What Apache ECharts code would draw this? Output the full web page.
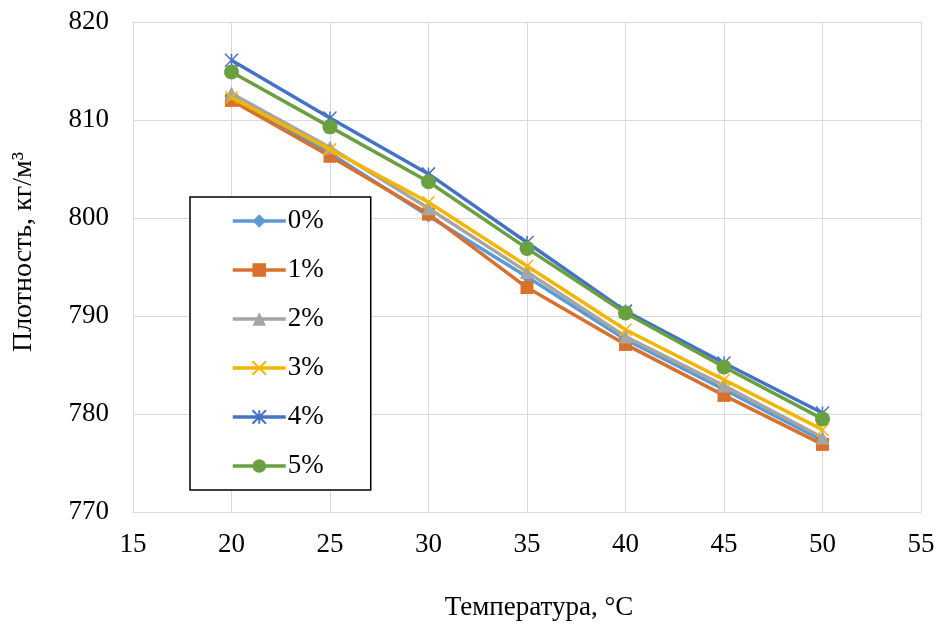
<!DOCTYPE html>
<html><head><meta charset="utf-8">
<script src="https://cdn.jsdelivr.net/npm/echarts@6/dist/echarts.min.js"></script>
<style>html,body{margin:0;padding:0;background:#fff}#c{width:939px;height:627px}</style>
</head><body><div id="c"></div>
<script>
const temps = [20, 25, 30, 35, 40, 45, 50];
const seriesNames = ['0%', '1%', '2%', '3%', '4%', '5%'];
const s0 = [812.2, 806.6, 800.2, 794.0, 787.6, 782.5, 777.3];
const s1 = [812.0, 806.3, 800.4, 792.9, 787.1, 781.9, 776.9];
const s2 = [812.7, 807.2, 801.0, 794.5, 787.9, 782.9, 777.6];
const s3 = [812.3, 807.0, 801.6, 795.1, 788.6, 783.5, 778.4];
const s4 = [816.1, 810.2, 804.5, 797.5, 790.5, 785.2, 780.1];
const s5 = [814.9, 809.3, 803.7, 796.9, 790.3, 784.8, 779.5];
const xTicks = [15, 20, 25, 30, 35, 40, 45, 50, 55];
const yTicks = [770, 780, 790, 800, 810, 820];

const allVals = [s0, s1, s2, s3, s4, s5];
const colors = ['#5B9BD5', '#D8702E', '#A5A5A5', '#F2B600', '#4472C4', '#6AA03F'];
const symbols = ['diamond', 'rect', 'triangle',
  'path://M0,0L10,10M10,0L0,10',
  'path://M5,0L5,10M0,0L10,10M10,0L0,10',
  'circle'];
const sizes = [13, 13, 14, 12, 13, 15];
const font = 'Liberation Serif';

const series = seriesNames.map((n, i) => {
  const strokeOnly = (i === 3 || i === 4);
  return {
    name: n, type: 'line',
    data: temps.map((t, k) => [t, allVals[i][k]]),
    symbol: symbols[i], symbolSize: sizes[i],
    lineStyle: { color: colors[i], width: 3.5 },
    itemStyle: strokeOnly ? { color: colors[i], borderColor: colors[i], borderWidth: 1.5 } : { color: colors[i], borderWidth: 0 },
    z: 2 + i
  };
});

const chart = echarts.init(document.getElementById('c'), null, { renderer: 'canvas' });
chart.setOption({
  animation: false,
  backgroundColor: '#fff',
  grid: { left: 133, right: 18, top: 22, bottom: 115, containLabel: false },
  xAxis: {
    type: 'value', min: xTicks[0], max: xTicks[xTicks.length - 1], interval: 5,
    name: 'Температура, °C', nameLocation: 'middle', nameGap: 82,
    nameTextStyle: { fontFamily: font, fontSize: 27, color: '#000', padding: [0, 0, 0, 24] },
    axisLine: { show: true, lineStyle: { color: '#D9D9D9', width: 1 } },
    axisTick: { show: false },
    axisLabel: { fontFamily: font, fontSize: 27, color: '#000', margin: 19 },
    splitLine: { show: true, lineStyle: { color: '#D9D9D9', width: 1 } }
  },
  yAxis: {
    type: 'value', min: yTicks[0], max: yTicks[yTicks.length - 1], interval: 10,
    name: 'Плотность, кг/м³', nameLocation: 'middle', nameGap: 95,
    nameTextStyle: { fontFamily: font, fontSize: 28, color: '#000', padding: [0, 0, 0, 30] },
    axisLine: { show: true, lineStyle: { color: '#D9D9D9', width: 1 } },
    axisTick: { show: false },
    axisLabel: { fontFamily: font, fontSize: 27, color: '#000', margin: 24 },
    splitLine: { show: true, lineStyle: { color: '#D9D9D9', width: 1 } }
  },
  legend: {
    orient: 'vertical', left: 190, top: 197,
    data: seriesNames,
    padding: [10, 47, 10, 41],
    itemGap: 21, itemWidth: 53, itemHeight: 17,
    lineStyle: { width: 3.5 },
    borderColor: '#000', borderWidth: 1.5, backgroundColor: '#fff',
    textStyle: { fontFamily: font, fontSize: 27, lineHeight: 28, color: '#000', padding: [0, 0, 0, -3] }
  },
  series: series
});
</script></body></html>
